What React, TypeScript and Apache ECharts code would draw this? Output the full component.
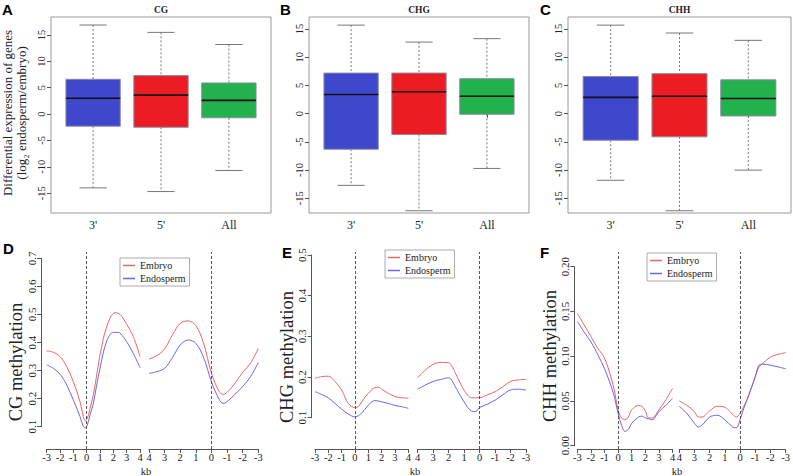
import React, { useEffect, useRef } from 'react';
import * as echarts from 'echarts';

// ---------- DATA ----------
const boxCategories = ["3'", "5'", "All"];
const boxTitles = ['CG', 'CHG', 'CHH'];
const boxYTicks = [-15, -10, -5, 0, 5, 10, 15];
// each box: [lower whisker, Q1, median, Q3, upper whisker]
const cgBoxes = [
  [-14.0, -2.3, 3.0, 6.6, 16.9],
  [-14.7, -2.5, 3.6, 7.3, 15.5],
  [-10.7, -0.7, 2.6, 5.9, 13.2],
];
const chgBoxes = [
  [-12.7, -6.3, 3.4, 7.2, 15.7],
  [-17.2, -3.7, 3.9, 7.2, 12.7],
  [-9.7, -0.1, 3.1, 6.2, 13.3],
];
const chhBoxes = [
  [-11.8, -4.7, 2.9, 6.6, 15.7],
  [-17.2, -4.1, 3.1, 7.1, 14.3],
  [-10.0, -0.4, 2.7, 6.0, 13.0],
];

const seriesNames = ['Embryo', 'Endosperm'];

// CG methylation (kb, value)
const cgEmbryoLeft = [[-3,0.370],[-2.5,0.365],[-2,0.350],[-1.5,0.314],[-1,0.260],[-0.5,0.189],[-0.25,0.136],[-0.1,0.121],[0.05,0.130],[0.25,0.165],[0.5,0.213],[0.75,0.284],[1,0.355],[1.5,0.456],[2.125,0.506],[2.5,0.500],[3,0.465],[3.5,0.421],[4,0.350]];
const cgEndoLeft = [[-3,0.320],[-2.5,0.308],[-2,0.287],[-1.5,0.249],[-1,0.195],[-0.5,0.136],[-0.25,0.100],[-0.1,0.096],[0.05,0.106],[0.25,0.142],[0.5,0.183],[0.75,0.248],[1,0.308],[1.5,0.405],[2,0.436],[2.375,0.436],[2.75,0.420],[3,0.403],[3.5,0.361],[4,0.310]];
const cgEmbryoRight = [[4,0.341],[3.5,0.353],[3,0.377],[2.5,0.427],[2,0.468],[1.5,0.477],[1,0.460],[0.5,0.397],[0,0.290],[-0.5,0.225],[-0.75,0.215],[-1,0.222],[-1.5,0.254],[-2,0.294],[-2.5,0.326],[-3,0.379]];
const cgEndoRight = [[4,0.290],[3.5,0.296],[3,0.308],[2.5,0.346],[2,0.391],[1.5,0.409],[1,0.397],[0.5,0.346],[0,0.260],[-0.5,0.197],[-0.75,0.183],[-1,0.189],[-1.5,0.215],[-2,0.243],[-2.5,0.278],[-3,0.328]];

// CHG methylation
const chgEmbryoLeft = [[-3,0.197],[-2.5,0.201],[-2,0.202],[-1.5,0.189],[-1,0.168],[-0.5,0.135],[0,0.125],[0.25,0.127],[0.5,0.139],[1,0.160],[1.5,0.174],[1.75,0.175],[2,0.170],[2.5,0.160],[3,0.152],[3.5,0.149],[4,0.148]];
const chgEndoLeft = [[-3,0.164],[-2.5,0.157],[-2,0.149],[-1.5,0.135],[-1,0.121],[-0.5,0.109],[0,0.102],[0.5,0.111],[1,0.131],[1.5,0.142],[2,0.139],[2.5,0.135],[3,0.130],[3.5,0.127],[4,0.123]];
const chgEmbryoRight = [[4,0.198],[3.5,0.217],[3,0.231],[2.5,0.236],[2,0.235],[1.5,0.205],[1,0.168],[0.5,0.149],[0,0.149],[-0.5,0.156],[-1,0.164],[-1.5,0.176],[-2,0.189],[-2.5,0.193],[-3,0.194]];
const chgEndoRight = [[4,0.170],[3.5,0.180],[3,0.189],[2.5,0.194],[2,0.198],[1.5,0.172],[1,0.139],[0.5,0.116],[0.25,0.115],[0,0.125],[-0.5,0.133],[-1,0.143],[-1.5,0.156],[-2,0.168],[-2.5,0.170],[-3,0.168]];

// CHH methylation
const chhEmbryoLeft = [[-3,0.148],[-2.5,0.135],[-2,0.122],[-1.5,0.109],[-1,0.098],[-0.5,0.075],[-0.25,0.060],[0,0.040],[0.25,0.031],[0.5,0.029],[0.75,0.032],[1,0.040],[1.5,0.045],[1.75,0.044],[2,0.039],[2.25,0.031],[2.5,0.031],[3,0.040],[3.5,0.051],[4,0.064]];
const chhEndoLeft = [[-3,0.139],[-2.5,0.127],[-2,0.116],[-1.5,0.102],[-1,0.086],[-0.5,0.066],[-0.25,0.053],[0,0.036],[0.25,0.023],[0.5,0.016],[0.75,0.018],[1,0.025],[1.5,0.032],[1.75,0.033],[2,0.031],[2.25,0.030],[2.5,0.029],[3,0.038],[3.5,0.045],[4,0.053]];
const chhEmbryoRight = [[4,0.050],[3.5,0.045],[3,0.038],[2.75,0.032],[2.5,0.032],[2,0.039],[1.5,0.044],[1,0.043],[0.5,0.035],[0.25,0.032],[0,0.036],[-0.25,0.044],[-0.5,0.053],[-1,0.077],[-1.25,0.088],[-1.5,0.092],[-2,0.099],[-2.5,0.102],[-3,0.104]];
const chhEndoRight = [[4,0.044],[3.5,0.036],[3,0.025],[2.75,0.021],[2.5,0.023],[2,0.032],[1.5,0.034],[1,0.029],[0.5,0.021],[0.25,0.020],[0,0.029],[-0.25,0.042],[-0.5,0.053],[-1,0.077],[-1.25,0.090],[-1.5,0.091],[-2,0.090],[-2.5,0.088],[-3,0.086]];

const cgTicks = [0.1, 0.2, 0.3, 0.4, 0.5, 0.6, 0.7];
const chgTicks = [0.1, 0.2, 0.3, 0.4, 0.5];
const chhTicks = [0.0, 0.05, 0.1, 0.15, 0.2];

// ---------- STYLE ----------
const SERIF = "'Liberation Serif', 'DejaVu Serif', 'Times New Roman', serif";
const SANS = "'Liberation Sans', Arial, sans-serif";
const BOX_COLORS = ['#3F48CC', '#EC1C24', '#22B14C'];
const RED = '#EE6464';
const BLUE = '#6767EE';
const AXIS = '#555';
const TEXT = '#222';

function buildOption() {
  const grid: any[] = [];
  const xAxis: any[] = [];
  const yAxis: any[] = [];
  const series: any[] = [];
  const graphic: any[] = [];

  // ---- top boxplots ----
  const tops = [
    { left: 51, width: 220, min: -18.77, max: 18.42, boxes: cgBoxes },
    { left: 309, width: 220, min: -17.6, max: 17.14, boxes: chgBoxes },
    { left: 568, width: 223, min: -17.6, max: 17.14, boxes: chhBoxes },
  ];
  tops.forEach((t, i) => {
    grid.push({ left: t.left, top: 17, width: t.width, height: 196, show: true, borderColor: '#999', borderWidth: 1, backgroundColor: 'transparent' });
    xAxis.push({
      gridIndex: i, type: 'value', min: 0.38, max: 3.62,
      axisLine: { show: false }, splitLine: { show: false },
      axisTick: { show: true, length: 4, customValues: [1, 2, 3], lineStyle: { color: AXIS } },
      axisLabel: { customValues: [1, 2, 3], formatter: (v: number) => boxCategories[Math.round(v) - 1], fontFamily: SERIF, fontSize: 12, color: TEXT, margin: 6 },
    });
    yAxis.push({
      gridIndex: i, type: 'value', min: t.min, max: t.max,
      axisLine: { show: false }, splitLine: { show: false },
      axisTick: { show: true, length: 4, customValues: boxYTicks, lineStyle: { color: AXIS } },
      axisLabel: { customValues: boxYTicks, rotate: 90, fontFamily: SERIF, fontSize: 10.5, color: TEXT, margin: 4 },
    });
    series.push({
      type: 'custom', coordinateSystem: 'cartesian2d', xAxisIndex: i, yAxisIndex: i, silent: true,
      data: t.boxes.map((b, k) => [k + 1, ...b, k]),
      encode: { x: 0, y: [1, 2, 3, 4, 5] },
      renderItem: (params: any, api: any) => {
        const pos = api.value(0);
        const pts = [1, 2, 3, 4, 5].map((d) => api.coord([pos, api.value(d)]));
        const ci = api.value(6);
        const [pLo, pQ1, pMed, pQ3, pHi] = pts;
        const cx = pLo[0];
        const bw = api.size([0.8, 0])[0];
        const half = bw / 4;
        const whisk = { stroke: '#777', lineWidth: 1, lineDash: [2, 2] };
        const cap = { stroke: '#777', lineWidth: 1 };
        return {
          type: 'group',
          children: [
            { type: 'line', shape: { x1: cx, y1: pHi[1], x2: cx, y2: pQ3[1] }, style: whisk },
            { type: 'line', shape: { x1: cx, y1: pQ1[1], x2: cx, y2: pLo[1] }, style: whisk },
            { type: 'line', shape: { x1: cx - half, y1: pHi[1], x2: cx + half, y2: pHi[1] }, style: cap },
            { type: 'line', shape: { x1: cx - half, y1: pLo[1], x2: cx + half, y2: pLo[1] }, style: cap },
            { type: 'rect', shape: { x: cx - bw / 2, y: pQ3[1], width: bw, height: pQ1[1] - pQ3[1] }, style: { fill: BOX_COLORS[ci], stroke: '#8a8aa0', lineWidth: 1 } },
            { type: 'line', shape: { x1: cx - bw / 2, y1: pMed[1], x2: cx + bw / 2, y2: pMed[1] }, style: { stroke: '#111', lineWidth: 1.6 } },
          ],
        };
      },
    });
    graphic.push({ type: 'text', x: t.left + t.width / 2, y: 10, style: { text: boxTitles[i], font: `bold 9.5px ${SERIF}`, fill: TEXT, textAlign: 'center', textVerticalAlign: 'middle' } });
  });

  // ---- bottom profiles ----
  const bottoms = [
    { axisX: 41, tickTop: 258.3, tickBottom: 426.7, ticks: cgTicks, dec: 1, yMin: 0.0205, yMax: 0.7224,
      lx: 46.7, lw: 93.3, rx: 149, rw: 109.3, emL: cgEmbryoLeft, enL: cgEndoLeft, emR: cgEmbryoRight, enR: cgEndoRight,
      legend: { left: 120, top: 258 } },
    { axisX: 311.7, tickTop: 255, tickBottom: 417.7, ticks: chgTicks, dec: 1, yMin: 0.023, yMax: 0.5074,
      lx: 315, lw: 93.3, rx: 417.5, rw: 108.5, emL: chgEmbryoLeft, enL: chgEndoLeft, emR: chgEmbryoRight, enR: chgEndoRight,
      legend: { left: 385, top: 250 } },
    { axisX: 574.3, tickTop: 266.7, tickBottom: 445.7, ticks: chhTicks, dec: 2, yMin: -0.0037, yMax: 0.2164,
      lx: 577.3, lw: 95.2, rx: 679.3, rw: 110, emL: chhEmbryoLeft, enL: chhEndoLeft, emR: chhEmbryoRight, enR: chhEndoRight,
      legend: { left: 647, top: 253 } },
  ];
  const legends: any[] = [];
  bottoms.forEach((b) => {
    // axis-only grid (R style axis that spans only the ticks)
    const gA = grid.length;
    grid.push({ left: b.axisX, top: b.tickTop, width: 1, height: b.tickBottom - b.tickTop });
    xAxis.push({ gridIndex: gA, type: 'value', show: false, min: 0, max: 1 });
    yAxis.push({
      gridIndex: gA, type: 'value', min: b.ticks[0], max: b.ticks[b.ticks.length - 1],
      axisLine: { show: true, lineStyle: { color: AXIS } }, splitLine: { show: false },
      axisTick: { show: true, length: 4, customValues: b.ticks, lineStyle: { color: AXIS } },
      axisLabel: { customValues: b.ticks, rotate: 90, formatter: (v: number) => v.toFixed(b.dec), fontFamily: SERIF, fontSize: 11, color: TEXT, margin: 4 },
    });
    // data grids
    const segs = [
      { left: b.lx, width: b.lw, inverse: false, em: b.emL, en: b.enL },
      { left: b.rx, width: b.rw, inverse: true, em: b.emR, en: b.enR },
    ];
    segs.forEach((s) => {
      const g = grid.length;
      grid.push({ left: s.left, top: 252, width: s.width, height: 197 });
      xAxis.push({
        gridIndex: g, type: 'value', min: -3, max: 4, interval: 1, inverse: s.inverse,
        axisLine: { show: true, onZero: false, lineStyle: { color: AXIS } }, splitLine: { show: false },
        axisTick: { show: true, length: 4, lineStyle: { color: AXIS } },
        axisLabel: { fontFamily: SERIF, fontSize: 10.5, color: TEXT, margin: 3, showMinLabel: true, showMaxLabel: true },
      });
      yAxis.push({ gridIndex: g, type: 'value', show: false, min: b.yMin, max: b.yMax });
      series.push({
        type: 'line', name: seriesNames[0], xAxisIndex: g, yAxisIndex: g, data: s.em, smooth: 0.35, symbol: 'none', clip: false, silent: true,
        lineStyle: { color: RED, width: 1 }, itemStyle: { color: RED },
        markLine: { silent: true, symbol: ['none', 'none'], label: { show: false }, lineStyle: { color: '#555', type: [3, 2], width: 1 }, data: [{ xAxis: 0 }] },
      });
      series.push({
        type: 'line', name: seriesNames[1], xAxisIndex: g, yAxisIndex: g, data: s.en, smooth: 0.35, symbol: 'none', clip: false, silent: true,
        lineStyle: { color: BLUE, width: 1 }, itemStyle: { color: BLUE },
      });
    });
    legends.push({
      left: b.legend.left, top: b.legend.top, orient: 'vertical', data: seriesNames, selectedMode: false,
      icon: 'rect', itemWidth: 12, itemHeight: 1.5, itemGap: 2, itemTextGap: 5, padding: [2, 4, 2, 3],
      borderColor: '#aaa', borderWidth: 1, backgroundColor: '#fff',
      textStyle: { fontFamily: SERIF, fontSize: 10, color: TEXT, lineHeight: 11 },
    });
  });

  // texts: panel letters, axis names
  const letters = [['A', 2, 2], ['B', 280, 2], ['C', 540, 2], ['D', 3, 241], ['E', 282, 245], ['F', 540, 245]];
  letters.forEach(([t, x, y]) => {
    graphic.push({ type: 'text', x, y, style: { text: t, font: `bold 15px ${SANS}`, fill: '#000', textVerticalAlign: 'top' } });
  });
  const vText = (text: string, x: number, y: number, size: number) => ({
    type: 'text', x, y, rotation: Math.PI / 2,
    style: { text, font: `${size}px ${SERIF}`, fill: TEXT, textAlign: 'center', textVerticalAlign: 'middle' },
  });
  graphic.push(vText('Differential expression of genes', 7.5, 113, 13));
  graphic.push(vText('(log\u2082 endosperm/embryo)', 21, 113, 13));
  graphic.push(vText('CG methylation', 16, 362, 18.5));
  graphic.push(vText('CHG methylation', 287, 357, 18.5));
  graphic.push(vText('CHH methylation', 550, 356, 18.5));
  [[146, 471], [415, 471], [677, 471]].forEach(([x, y]) => {
    graphic.push({ type: 'text', x, y, style: { text: 'kb', font: `10.5px ${SERIF}`, fill: TEXT, textAlign: 'center', textVerticalAlign: 'middle' } });
  });

  return {
    animation: false,
    backgroundColor: '#fff',
    grid, xAxis, yAxis, series,
    legend: legends,
    graphic,
  };
}

export default function App() {
  const ref = useRef<HTMLDivElement>(null);
  useEffect(() => {
    document.body.style.margin = '0';
    const chart = echarts.init(ref.current!, undefined, { renderer: 'svg' });
    chart.setOption(buildOption());
    return () => chart.dispose();
  }, []);
  return <div ref={ref} style={{ width: 793, height: 476, position: 'absolute', left: 0, top: 0 }} />;
}
